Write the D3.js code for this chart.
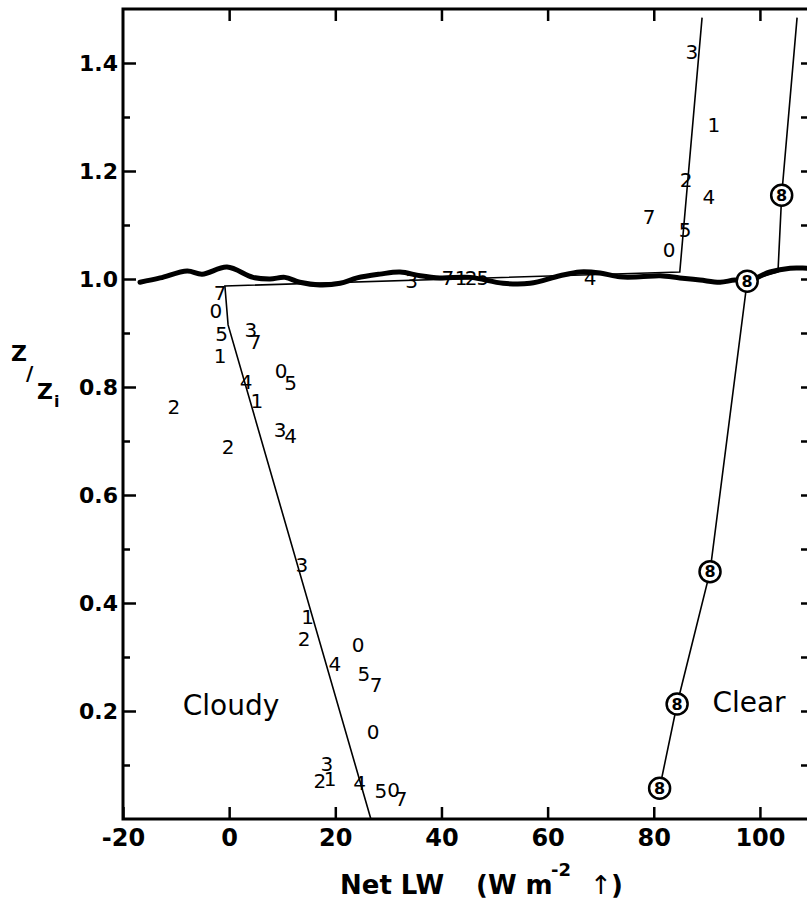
<!DOCTYPE html>
<html>
<head>
<meta charset="utf-8">
<script src="https://cdn.jsdelivr.net/npm/d3@7"></script>
<style>
body { margin: 0; background: #fff; }
svg { display: block; }
</style>
</head>
<body>
<svg id="chart" width="807" height="903"></svg>
<script>
// sounding digits below the inversion (cloudy case): [id, net LW, z/zi]
var cloudyPts = [
  ["7", -1.7, 0.974], ["0", -2.5, 0.941], ["5", -1.4, 0.898], ["3", 4.1, 0.906],
  ["7", 4.9, 0.884], ["1", -1.7, 0.858], ["4", 3.2, 0.810], ["0", 9.8, 0.830],
  ["5", 11.6, 0.808], ["1", 5.2, 0.774], ["2", -10.4, 0.763], ["3", 9.6, 0.721],
  ["4", 11.6, 0.710], ["2", -0.2, 0.689], ["3", 13.7, 0.471], ["1", 14.8, 0.375],
  ["2", 14.1, 0.333], ["4", 19.9, 0.287], ["0", 24.3, 0.322], ["5", 25.4, 0.268],
  ["7", 27.7, 0.248], ["0", 27.1, 0.161], ["3", 18.4, 0.102], ["2", 17.1, 0.070],
  ["1", 19.0, 0.074], ["4", 24.6, 0.067], ["5", 28.6, 0.052], ["0", 31.0, 0.054],
  ["7", 32.4, 0.037]
]
// digits sitting on the inversion
var inversionPts = [
  ["3", 34.4, 0.996], ["7", 41.2, 1.002], ["1", 43.7, 1.002], ["2", 45.6, 1.002],
  ["5", 47.8, 1.002], ["4", 68.0, 1.002]
]
// digits above the inversion
var abovePts = [
  ["3", 87.2, 1.420], ["1", 91.3, 1.285], ["2", 86.1, 1.183], ["4", 90.4, 1.152],
  ["7", 79.1, 1.116], ["5", 85.9, 1.092], ["0", 82.9, 1.054]
]
// circled 8 = clear case
var clearNet = [81.1, 84.4, 90.6, 97.6, 104.1]
var clearZ = [0.057, 0.213, 0.458, 0.996, 1.155]

// fitted profiles
var cloudyLineNet = [89.1, 84.9, -0.8, -0.2, 26.7]
var cloudyLineZ = [1.484, 1.013, 0.987, 0.915, 0.0]
var clearLineNet = [81.1, 84.4, 90.6, 97.6, 103.4, 104.1, 107.0]
var clearLineZ = [0.057, 0.213, 0.458, 0.996, 1.013, 1.155, 1.484]

// wavy inversion (cloud top) trace
var waveNet = [-16.8, -13.0, -7.9, -5.1, -0.4, 4.5, 7.7, 10.5, 13.3, 17.1, 20.9, 24.1,
  28.4, 32.2, 36.0, 39.7, 45.4, 51.6, 56.7, 62.3, 66.1, 69.9, 73.6, 77.4, 81.2,
  84.9, 88.7, 92.5, 95.3, 97.6, 101.9, 105.7, 108.9, 110]
var waveZ = [0.994, 1.002, 1.015, 1.009, 1.022, 1.003, 1.000, 1.003, 0.994, 0.989,
  0.992, 1.002, 1.009, 1.013, 1.006, 1.002, 1.003, 0.992, 0.992, 1.006, 1.013,
  1.011, 1.004, 1.004, 1.006, 1.002, 0.998, 0.994, 0.998, 0.996, 1.013, 1.020,
  1.020, 1.020]

var xTicks = [-20, 0, 20, 40, 60, 80, 100]
var yMajor = [0.2, 0.4, 0.6, 0.8, 1.0, 1.2, 1.4]
var yMinor = [0.1, 0.3, 0.5, 0.7, 0.9, 1.1, 1.3]

var margin = {left: 123, right: 813, top: 9, bottom: 819}

var svg = d3.select("#chart")
var xScale = d3.scaleLinear().domain([-20, 110]).range([margin.left, margin.right])
var yScale = d3.scaleLinear().domain([0, 1.5]).range([margin.bottom, margin.top])

var numFont = "DejaVu Sans, sans-serif"

// axes, ticks pointing inward
var gx = svg.append("g").attr("transform", "translate(0," + margin.bottom + ")")
  .call(d3.axisBottom(xScale).tickValues(xTicks).tickSize(-12).tickSizeOuter(0).tickPadding(10)
    .tickFormat(function(d) { return d < 0 ? "-" + Math.abs(d) : d }))
gx.selectAll("text").style("font", "bold 24px " + numFont).attr("fill", "#000")

svg.append("g").attr("transform", "translate(0," + margin.top + ")")
  .call(d3.axisTop(xScale).tickValues(xTicks.slice(1)).tickSize(-12).tickSizeOuter(0).tickFormat(""))

var gy = svg.append("g").attr("transform", "translate(" + margin.left + ",0)")
  .call(d3.axisLeft(yScale).tickValues(yMajor).tickSize(-13).tickSizeOuter(0).tickPadding(5)
    .tickFormat(d3.format(".1f")))
gy.selectAll("text").style("font", "bold 22px " + numFont).attr("fill", "#000")
svg.append("g").attr("transform", "translate(" + margin.left + ",0)")
  .call(d3.axisLeft(yScale).tickValues(yMinor).tickSize(-7).tickSizeOuter(0).tickFormat(""))

svg.append("g").attr("transform", "translate(" + margin.right + ",0)")
  .call(d3.axisRight(yScale).tickValues(yMajor.concat(yMinor)).tickSize(-12).tickSizeOuter(0).tickFormat(""))

svg.selectAll(".tick line").attr("stroke", "#000").attr("stroke-width", 2.5)
svg.selectAll(".domain").remove()

// frame
svg.append("rect")
  .attr("x", margin.left).attr("y", margin.top)
  .attr("width", margin.right - margin.left).attr("height", margin.bottom - margin.top)
  .attr("fill", "none").attr("stroke", "#000").attr("stroke-width", 3)

// profiles
var line = d3.line()
  .x(function(d) { return xScale(d[0]) })
  .y(function(d) { return yScale(d[1]) })

svg.append("path")
  .datum(d3.zip(cloudyLineNet, cloudyLineZ))
  .attr("fill", "none").attr("stroke", "#000").attr("stroke-width", 1.6)
  .attr("d", line)
svg.append("path")
  .datum(d3.zip(clearLineNet, clearLineZ))
  .attr("fill", "none").attr("stroke", "#000").attr("stroke-width", 1.6)
  .attr("d", line)

// wavy cloud top
svg.append("path")
  .datum(d3.zip(waveNet, waveZ))
  .attr("fill", "none").attr("stroke", "#000").attr("stroke-width", 5)
  .attr("stroke-linecap", "round").attr("stroke-linejoin", "round")
  .attr("d", line.curve(d3.curveCatmullRom))

// circled 8 markers
var circ = svg.append("g").selectAll("g")
  .data(d3.zip(clearNet, clearZ))
  .enter().append("g")
  .attr("transform", function(d) { return "translate(" + xScale(d[0]) + "," + yScale(d[1]) + ")" })
circ.append("circle").attr("r", 10.5)
  .attr("fill", "#fff").attr("stroke", "#000").attr("stroke-width", 2.5)
circ.append("text").text("8")
  .attr("text-anchor", "middle").attr("dy", "0.36em")
  .style("font", "bold 16px " + numFont)

// sounding digits
svg.append("g").selectAll("text")
  .data(cloudyPts.concat(inversionPts, abovePts))
  .enter().append("text")
  .attr("x", function(d) { return xScale(d[1]) })
  .attr("y", function(d) { return yScale(d[2]) })
  .attr("dy", "0.36em")
  .attr("text-anchor", "middle")
  .style("font", "20px " + numFont)
  .text(function(d) { return d[0] })

// case labels
svg.append("text").attr("x", 231).attr("y", 715).attr("text-anchor", "middle")
  .style("font", "28px " + numFont).text("Cloudy")
svg.append("text").attr("x", 749).attr("y", 712).attr("text-anchor", "middle")
  .style("font", "28px " + numFont).text("Clear")

// y title  Z/Zi
var yt = svg.append("g").style("font", "bold 22px " + numFont)
yt.append("text").attr("x", 11).attr("y", 361).text("Z")
yt.append("text").attr("x", 26).attr("y", 380).style("font-size", "20px").text("/")
yt.append("text").attr("x", 37).attr("y", 399).text("Z")
yt.append("text").attr("x", 54).attr("y", 407).style("font-size", "16px").text("i")

// x title
var xt = svg.append("g").style("font", "bold 26px " + numFont)
xt.append("text").attr("x", 340).attr("y", 894).text("Net LW")
xt.append("text").attr("x", 476).attr("y", 894).text("(W m")
xt.append("text").attr("x", 551).attr("y", 876).style("font-size", "18px").text("-2")
xt.append("text").attr("x", 590).attr("y", 894).style("font-weight", "normal").text("\u2191")
xt.append("text").attr("x", 611).attr("y", 894).text(")")
</script>
</body>
</html>
